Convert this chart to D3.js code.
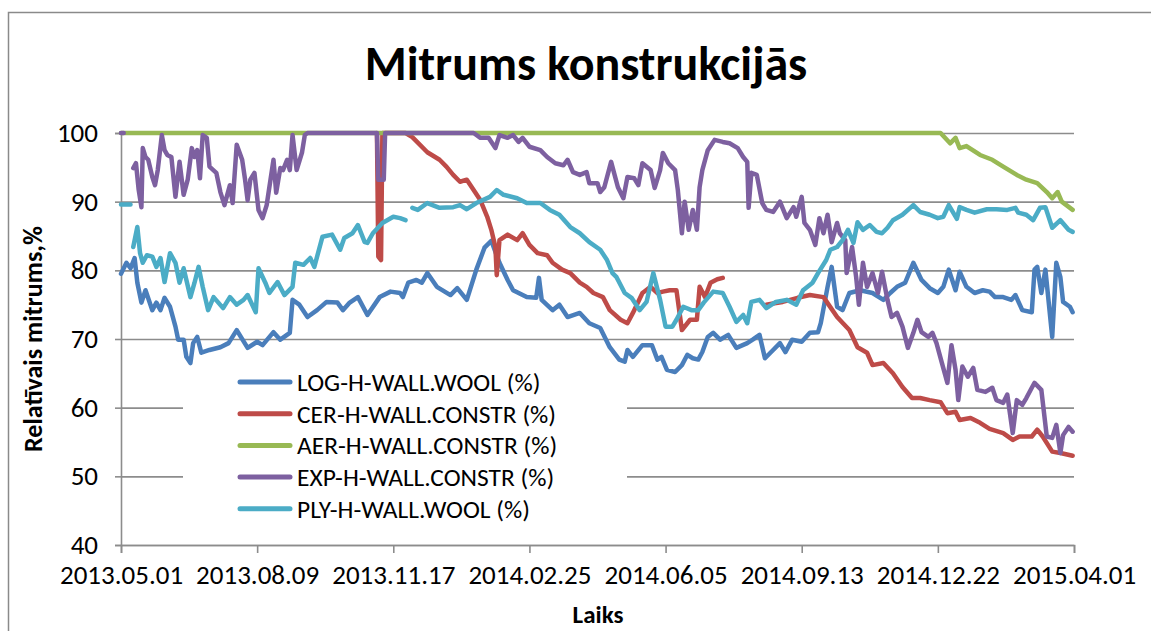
<!DOCTYPE html>
<html>
<head>
<meta charset="utf-8">
<script src="https://cdn.jsdelivr.net/npm/d3@7"></script>
<style>
  body { margin: 0; background: #fff; }
  svg { display: block; font-family: Carlito, Calibri, "Open Sans", sans-serif; }
</style>
</head>
<body>
<svg id="chart" width="1151" height="631"></svg>
<script>
// days counted from 2013.05.01, value = relative humidity %
// [day, null] marks a gap in the logger data
const startDate = "2013.05.01";
const endDate = "2015.04.01";
const xTickLabels = ["2013.05.01", "2013.08.09", "2013.11.17", "2014.02.25", "2014.06.05", "2014.09.13", "2014.12.22", "2015.04.01"];
const yTicks = [40, 50, 60, 70, 80, 90, 100];

const seriesNames = ["LOG-H-WALL.WOOL (%)", "CER-H-WALL.CONSTR (%)", "AER-H-WALL.CONSTR (%)", "EXP-H-WALL.CONSTR (%)", "PLY-H-WALL.WOOL (%)"];

const logWool = [[0,79.5],[4,81.1],[7,80.3],[10,81.8],[12,78.2],[15,75.3],[18,77.1],[23,74.2],[26,75.3],[29,74.2],[32,76.0],[36,74.7],[40,71.8],[42,69.9],[46,69.9],[48,67.4],[51,66.5],[53,69.4],[56,70.3],[59,68.0],[65,68.4],[73,68.8],[79,69.4],[85,71.3],[93,68.7],[100,69.6],[104,69.1],[112,71.0],[117,69.9],[124,70.9],[126,75.7],[131,75.0],[137,73.2],[144,74.2],[151,75.4],[159,75.3],[163,74.2],[168,75.3],[174,76.1],[181,73.5],[190,76.1],[198,76.9],[205,76.7],[207,76.1],[211,78.2],[217,78.6],[221,78.2],[225,79.6],[232,77.6],[242,76.4],[247,77.4],[254,75.7],[261,80.1],[267,83.3],[272,84.3],[278,81.1],[284,78.6],[288,77.1],[298,76.1],[305,76.0],[307,78.9],[309,75.7],[317,74.2],[322,75.0],[328,73.2],[337,73.8],[344,72.3],[352,71.6],[359,68.8],[366,67.0],[370,66.7],[372,68.4],[376,67.4],[383,69.1],[390,69.1],[394,67.0],[397,67.4],[401,65.5],[407,65.2],[412,66.2],[416,67.7],[420,67.2],[424,67.0],[427,68.1],[431,70.3],[435,70.9],[440,69.9],[446,70.6],[452,68.7],[460,69.4],[464,69.9],[469,70.6],[473,67.2],[479,68.4],[484,69.4],[488,68.1],[493,69.9],[500,69.6],[506,70.9],[512,71.0],[514,72.3],[519,77.6],[522,80.5],[526,74.7],[530,74.2],[535,76.7],[543,77.1],[552,76.7],[560,75.7],[565,76.7],[570,77.6],[576,78.2],[582,81.1],[588,78.6],[594,77.4],[600,76.7],[604,77.6],[608,80.1],[613,77.1],[616,79.8],[621,77.6],[627,76.7],[633,77.1],[638,76.9],[642,76.1],[648,76.1],[654,75.7],[657,76.4],[662,74.2],[669,73.9],[671,80.1],[673,80.5],[676,76.7],[679,80.1],[684,70.3],[687,81.1],[690,79.0],[692,75.4],[697,74.7],[699,73.9]];

const cerConstr = [[188,100],[189,82],[191,81.5],[192,100],[209,100],[214,99.4],[225,97.2],[234,96.1],[239,95.1],[244,93.9],[249,92.9],[254,93.2],[260,91.4],[264,90.2],[269,87.8],[272,85.9],[275,83.4],[276,79.3],[278,84.4],[284,85.2],[291,84.4],[295,85.4],[300,83.7],[306,82.5],[313,82.2],[317,81.1],[324,80.1],[330,79.6],[337,78.2],[342,77.6],[347,76.7],[354,76.1],[359,74.2],[367,72.8],[372,72.3],[376,73.8],[383,76.7],[389,77.6],[394,76.7],[398,76.9],[403,77.1],[408,77.1],[412,71.3],[418,72.8],[423,72.8],[425,77.6],[429,76.1],[433,78.2],[438,78.7],[442,78.9],[443,null],[474,75.0],[480,75.2],[486,75.4],[497,76.0],[506,76.4],[516,76.1],[526,73.2],[535,71.3],[541,68.8],[548,68.0],[552,66.2],[560,66.5],[567,65.0],[574,63.0],[581,61.4],[587,61.4],[594,61.1],[602,60.8],[607,59.2],[613,59.4],[616,58.2],[624,58.5],[631,57.8],[638,56.9],[648,56.3],[655,55.3],[660,55.8],[669,55.8],[673,56.8],[677,55.8],[684,53.6],[690,53.4],[699,53.0]];

const aerConstr = [[0,100],[602,100],[609,98.5],[613,99.3],[616,97.8],[621,98.1],[631,96.8],[640,96.1],[648,95.1],[658,93.9],[665,93.2],[673,92.7],[680,91.4],[684,90.5],[688,91.4],[691,90.0],[699,88.8]];

const expConstr = [[0,100],[2,100],[3,null],[9,94.9],[11,95.6],[13,91.7],[15,89.2],[16,97.8],[18,96.5],[20,96.1],[23,93.6],[25,92.4],[27,94.6],[30,99.7],[32,97.5],[34,96.8],[37,96.5],[40,90.7],[43,95.8],[46,91.0],[49,93.2],[52,97.8],[54,96.5],[56,97.5],[58,93.4],[60,99.7],[63,99.3],[65,95.1],[70,94.2],[73,91.4],[76,89.5],[80,92.4],[82,89.8],[85,98.3],[89,96.1],[91,93.4],[93,90.2],[95,93.2],[98,94.2],[101,88.8],[104,87.6],[107,89.5],[112,96.1],[114,91.3],[117,94.9],[119,94.6],[122,96.1],[124,94.6],[126,99.7],[129,94.6],[133,97.2],[135,99.7],[137,100],[188,100],[189,93.2],[193,93.2],[194,100],[259,100],[264,99.3],[270,99.3],[275,97.8],[278,99.7],[284,99.3],[288,99.7],[292,98.7],[295,99.3],[300,98.0],[308,97.5],[313,96.5],[319,95.6],[325,95.3],[328,96.1],[332,94.3],[337,93.9],[342,94.3],[344,92.7],[350,92.7],[352,91.4],[355,92.1],[360,95.8],[365,92.1],[369,90.5],[372,93.6],[377,93.4],[380,92.4],[383,95.6],[389,94.6],[392,92.0],[396,94.6],[398,97.1],[402,95.6],[407,94.6],[409,91.7],[412,85.4],[414,90.0],[417,85.9],[420,88.8],[423,85.9],[425,92.1],[427,94.6],[431,97.5],[436,99.0],[442,98.7],[447,98.5],[453,97.8],[457,96.5],[460,95.8],[461,89.1],[463,94.2],[467,93.9],[471,89.8],[474,88.8],[479,88.5],[484,90.0],[489,87.6],[494,89.2],[496,87.8],[500,90.7],[502,86.9],[506,85.9],[510,83.7],[513,87.6],[516,85.4],[519,88.1],[522,84.1],[526,86.9],[528,85.4],[532,84.4],[533,79.6],[537,83.4],[540,79.0],[542,75.0],[545,81.1],[548,77.6],[552,79.6],[556,76.7],[559,79.8],[563,75.7],[566,73.2],[570,73.8],[574,71.8],[578,68.7],[582,70.9],[585,72.8],[588,71.0],[593,70.3],[596,70.9],[599,69.4],[603,66.5],[607,63.6],[610,69.1],[613,65.5],[615,61.1],[618,66.0],[622,64.5],[626,65.8],[629,62.6],[635,62.3],[640,62.9],[643,61.1],[648,60.7],[651,61.9],[655,56.3],[658,61.1],[662,60.4],[665,61.4],[669,62.9],[671,63.6],[676,62.6],[680,55.8],[684,55.6],[687,57.5],[690,53.4],[692,56.0],[696,57.2],[699,56.5]];

const plyWool = [[0,89.6],[7,89.6],[8,null],[9,83.4],[12,86.3],[14,82.5],[16,81.1],[19,82.2],[23,82.0],[26,80.5],[29,81.8],[32,78.3],[36,82.5],[40,81.1],[43,78.2],[46,80.3],[51,76.1],[54,78.2],[57,80.5],[60,77.6],[64,74.2],[68,76.1],[75,74.5],[80,76.1],[85,75.0],[90,75.7],[93,76.4],[99,73.9],[101,80.3],[106,78.2],[109,76.7],[115,78.3],[120,76.4],[126,77.6],[128,81.1],[134,80.8],[139,81.8],[142,80.5],[148,84.9],[155,85.2],[161,83.0],[164,84.7],[170,85.4],[174,86.6],[179,84.1],[181,84.0],[185,85.4],[192,86.9],[200,87.8],[205,87.6],[209,87.3],[211,null],[214,89.1],[218,88.8],[225,89.8],[234,89.1],[244,89.2],[249,89.5],[254,88.9],[261,89.8],[271,90.7],[276,91.7],[281,91.0],[291,90.5],[298,89.8],[308,89.8],[315,88.8],[322,88.1],[330,86.3],[337,85.4],[344,84.1],[352,83.0],[357,81.5],[361,79.6],[364,79.0],[370,76.7],[375,76.0],[381,74.2],[386,75.4],[391,79.6],[396,75.7],[400,71.8],[405,71.8],[408,72.8],[413,74.7],[419,74.2],[424,74.2],[428,75.3],[435,76.9],[442,76.7],[447,74.7],[452,72.5],[457,73.5],[460,72.3],[463,75.4],[469,75.7],[474,74.5],[481,75.4],[489,75.7],[496,75.0],[501,77.1],[508,78.2],[512,79.6],[518,81.5],[521,83.0],[526,83.4],[530,84.4],[534,85.9],[538,84.0],[541,87.0],[545,85.9],[550,86.6],[555,85.6],[559,85.4],[563,86.2],[567,87.3],[574,88.1],[582,89.5],[587,88.5],[594,88.1],[600,87.6],[604,87.8],[608,89.5],[614,87.5],[616,89.2],[621,88.8],[627,88.4],[636,88.9],[643,88.9],[651,88.8],[657,89.1],[659,88.4],[665,88.1],[670,87.3],[675,89.1],[679,89.2],[684,86.2],[690,87.3],[696,85.9],[699,85.6]];

const seriesData = [logWool, cerConstr, aerConstr, expConstr, plyWool];
const colors = ["#4a7ebb", "#be4b48", "#98b954", "#7d60a0", "#4bacc6"];

const width = 1151;
const height = 631;
const plot = { left: 121, right: 1074, top: 133, bottom: 545 };
const fontFamily = "Carlito, Calibri, 'Open Sans', sans-serif";

const parse = d3.timeParse("%Y.%m.%d");
const fmt = d3.timeFormat("%Y.%m.%d");
const start = parse(startDate);

const svg = d3.select("#chart");

// outer chart frame (runs off the right and bottom edge)
svg.append("rect")
  .attr("x", 8.5).attr("y", 12.5)
  .attr("width", 1170).attr("height", 650)
  .attr("fill", "#fff")
  .attr("stroke", "#8a8a8a")
  .attr("stroke-width", 1.5);

const xScale = d3.scaleTime()
  .domain([start, parse(endDate)])
  .range([plot.left, plot.right]);

const yScale = d3.scaleLinear()
  .domain([40, 100])
  .range([plot.bottom, plot.top]);

// horizontal gridlines
svg.append("g")
  .attr("transform", `translate(${plot.left},0)`)
  .call(d3.axisLeft(yScale).tickValues(yTicks).tickSize(-(plot.right - plot.left)).tickFormat(""))
  .call(g => g.select(".domain").remove())
  .call(g => g.selectAll("line").attr("stroke", "#8c8c8c").attr("stroke-width", 1.6));

// y axis
const yAxis = svg.append("g")
  .attr("transform", `translate(${plot.left},0)`)
  .call(d3.axisLeft(yScale).tickValues(yTicks).tickSize(6).tickPadding(17));
yAxis.select(".domain").attr("stroke", "#8c8c8c").attr("stroke-width", 1.6);
yAxis.selectAll(".tick line").attr("stroke", "#8c8c8c").attr("stroke-width", 1.6);
yAxis.selectAll(".tick text")
  .attr("fill", "#000")
  .style("font-size", "27px")
  .style("font-family", fontFamily);

// x axis
const xAxis = svg.append("g")
  .attr("transform", `translate(0,${plot.bottom})`)
  .call(d3.axisBottom(xScale).tickValues(xTickLabels.map(parse)).tickFormat(fmt).tickSize(8).tickPadding(12));
xAxis.select(".domain").attr("stroke", "#8c8c8c").attr("stroke-width", 1.6);
xAxis.selectAll(".tick line").attr("stroke", "#8c8c8c").attr("stroke-width", 1.6);
xAxis.selectAll(".tick text")
  .attr("fill", "#000")
  .style("font-size", "27px")
  .style("font-family", fontFamily);

// series lines
const line = d3.line()
  .defined(d => d[1] !== null)
  .x(d => xScale(d3.timeDay.offset(start, d[0])))
  .y(d => yScale(d[1]));

svg.append("g")
  .selectAll("path")
  .data(seriesData)
  .join("path")
  .attr("d", d => line(d))
  .attr("fill", "none")
  .attr("stroke", (d, i) => colors[i])
  .attr("stroke-width", 4.5)
  .attr("stroke-linejoin", "round")
  .attr("stroke-linecap", "round");

// legend
const legend = svg.append("g").attr("transform", "translate(183,367)");
legend.append("rect")
  .attr("width", 444).attr("height", 160)
  .attr("fill", "#fff");
const items = legend.selectAll("g.item")
  .data(seriesNames)
  .join("g")
  .attr("class", "item")
  .attr("transform", (d, i) => `translate(0,${15 + i * 31.7})`);
items.append("line")
  .attr("x1", 57).attr("x2", 107)
  .attr("stroke", (d, i) => colors[i])
  .attr("stroke-width", 5)
  .attr("stroke-linecap", "round");
items.append("text")
  .attr("x", 114)
  .attr("dy", "0.35em")
  .style("font-size", "25.5px")
  .text(d => d);

// title
svg.append("text")
  .attr("x", 586).attr("y", 80)
  .attr("text-anchor", "middle")
  .style("font-size", "48px")
  .style("font-weight", "bold")
  .text("Mitrums konstrukcijās");

// axis titles
svg.append("text")
  .attr("transform", `translate(42,${(plot.top + plot.bottom) / 2}) rotate(-90)`)
  .attr("text-anchor", "middle")
  .style("font-size", "26px")
  .style("font-weight", "bold")
  .text("Relatīvais mitrums,%");

svg.append("text")
  .attr("x", 598).attr("y", 623)
  .attr("text-anchor", "middle")
  .style("font-size", "25px")
  .style("font-weight", "bold")
  .text("Laiks");
</script>
</body>
</html>
